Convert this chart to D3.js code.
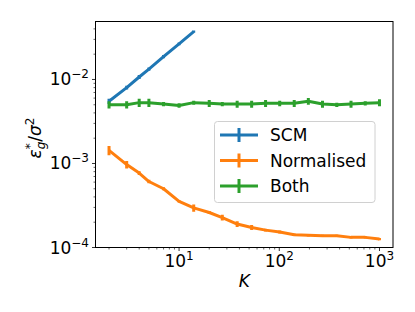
<!DOCTYPE html>
<html><head><meta charset="utf-8">
<script src="https://cdn.jsdelivr.net/npm/d3@7"></script>
<style>
html,body{margin:0;padding:0;background:#fff;}
text{font-family:"DejaVu Sans",sans-serif;fill:#000;}
</style></head>
<body><svg id="c" width="415" height="312"></svg>
<script>
const K = [2,3,4,5,7,10,14,20,27,38,53,73,101,141,195,270,375,520,721,1000];
const scmK = [2,3,4,5,7,10,14];
const scm = [0.0055,0.0080,0.0107,0.0133,0.0187,0.0265,0.0371];
const scmErr = [0.0004,0.0004,0.0006,0.0006,0.0008,0.0010,0.0012];
const norm = [0.00143,0.00097,0.00077,0.00061,0.00050,0.000354,0.000296,0.000261,0.000227,0.000190,0.000173,0.000161,0.000153,0.000142,0.000140,0.000138,0.000138,0.000132,0.000132,0.000126];
const normErr = [0.00018,0.0001,0.00004,0.00003,0.00002,0.00001,0.00003,0.00001,0.000018,0.000015,0.000012,0.000006,0.000006,0.000005,0.000005,0.000004,0.000004,0.000004,0.000004,0.000004];
const both = [0.0050,0.0050,0.0053,0.0053,0.0051,0.0049,0.0053,0.0052,0.0051,0.0051,0.0051,0.0052,0.0052,0.0052,0.0055,0.0051,0.0050,0.0051,0.0052,0.0053];
const bothErr = [0.0005,0.0005,0.0006,0.0006,0.0003,0.0003,0.0003,0.0005,0.0003,0.0005,0.0005,0.0005,0.0004,0.0005,0.0005,0.0005,0.0003,0.0005,0.0003,0.0005];
const xTicks = [10,100,1000];
const xTickExp = ["1","2","3"];
const yTicks = [1e-4,1e-3,1e-2];
const yTickExp = ["\u22124","\u22123","\u22122"];
const seriesNames = ["SCM","Normalised","Both"];
const colors = ["#1f77b4","#ff7f0e","#2ca02c"];

const L=95.5,R=393,T=21.5,B=247.5;
const x = d3.scaleLog().domain([Math.pow(10,0.166),Math.pow(10,3.135)]).range([L,R]);
const y = d3.scaleLog().domain([1e-4,Math.pow(10,-1.31)]).range([B,T]);
const svg = d3.select("#c");

// minor ticks
const xMinor=[], yMinor=[];
for(let e=0;e<4;e++) for(let m=2;m<10;m++){const v=m*Math.pow(10,e); if(v>=x.domain()[0]&&v<=x.domain()[1]) xMinor.push(v);}
for(let e=-4;e<-1;e++) for(let m=2;m<10;m++){const v=m*Math.pow(10,e); if(v>=y.domain()[0]&&v<=y.domain()[1]) yMinor.push(v);}

const g = svg.append("g");
g.selectAll(".xmin").data(xMinor).enter().append("line")
 .attr("x1",d=>x(d)).attr("x2",d=>x(d)).attr("y1",B).attr("y2",B+2).attr("stroke","#000").attr("stroke-width",0.6);
g.selectAll(".ymin").data(yMinor).enter().append("line")
 .attr("y1",d=>y(d)).attr("y2",d=>y(d)).attr("x1",L).attr("x2",L-2).attr("stroke","#000").attr("stroke-width",0.6);
g.selectAll(".xmaj").data(xTicks).enter().append("line")
 .attr("x1",d=>x(d)).attr("x2",d=>x(d)).attr("y1",B).attr("y2",B+3.5).attr("stroke","#000").attr("stroke-width",0.8);
g.selectAll(".ymaj").data(yTicks).enter().append("line")
 .attr("y1",d=>y(d)).attr("y2",d=>y(d)).attr("x1",L).attr("x2",L-3.5).attr("stroke","#000").attr("stroke-width",0.8);

// tick labels
xTicks.forEach((v,i)=>{
  const t=svg.append("text").attr("x",x(v)).attr("y",267).attr("text-anchor","middle").attr("font-size",17);
  t.append("tspan").text("10");
  t.append("tspan").attr("dy",-7).attr("font-size",12).text(xTickExp[i]);
});
yTicks.forEach((v,i)=>{
  const t=svg.append("text").attr("x",89).attr("y",y(v)+6).attr("text-anchor","end").attr("font-size",17);
  t.append("tspan").text("10");
  t.append("tspan").attr("dy",-7).attr("font-size",12).text(yTickExp[i]);
});

// data
const clip = svg.append("clipPath").attr("id","cp").append("rect").attr("x",L).attr("y",T).attr("width",R-L).attr("height",B-T);
const plot = svg.append("g").attr("clip-path","url(#cp)");
function drawSeries(xs, vals, errs, col){
  const pts = xs.map((k,i)=>({k,v:vals[i],e:errs[i]}));
  plot.append("path").datum(pts).attr("fill","none").attr("stroke",col).attr("stroke-width",3)
    .attr("stroke-linejoin","round")
    .attr("d",d3.line().x(d=>x(d.k)).y(d=>y(d.v)));
  plot.selectAll(null).data(pts).enter().append("line")
    .attr("x1",d=>x(d.k)).attr("x2",d=>x(d.k))
    .attr("y1",d=>y(d.v-d.e)).attr("y2",d=>y(d.v+d.e))
    .attr("stroke",col).attr("stroke-width",3);
}
drawSeries(scmK, scm, scmErr, colors[0]);
drawSeries(K, norm, normErr, colors[1]);
drawSeries(K, both, bothErr, colors[2]);

// frame
svg.append("rect").attr("x",L).attr("y",T).attr("width",R-L).attr("height",B-T)
  .attr("fill","none").attr("stroke","#000").attr("stroke-width",1);

// axis labels
const xl = svg.append("text").attr("x",(L+R)/2).attr("y",287).attr("text-anchor","middle")
  .attr("font-size",17).attr("font-style","italic").text("K");
const yl = svg.append("text").attr("transform","translate(41,138) rotate(-90)").attr("text-anchor","middle")
  .attr("font-size",17).attr("font-style","italic");
yl.append("tspan").text("\u03b5");
yl.append("tspan").attr("font-size",12).attr("dy",-7).text("*");
yl.append("tspan").attr("font-size",12).attr("dx",-6).attr("dy",11).text("g");
yl.append("tspan").attr("dy",-4).attr("font-style","normal").text("/");
yl.append("tspan").text("\u03c3");
yl.append("tspan").attr("font-size",12).attr("font-style","normal").attr("dy",-7).text("2");

// legend
const lg = svg.append("g");
lg.append("rect").attr("x",214.5).attr("y",121.5).attr("width",160.5).attr("height",81).attr("rx",3)
  .attr("fill","#fff").attr("fill-opacity",0.8).attr("stroke","#d0d0d0").attr("stroke-width",1);
seriesNames.forEach((n,i)=>{
  const cy = 135 + i*25.5;
  lg.append("line").attr("x1",220).attr("x2",258).attr("y1",cy).attr("y2",cy).attr("stroke",colors[i]).attr("stroke-width",3);
  lg.append("line").attr("x1",239).attr("x2",239).attr("y1",cy-7).attr("y2",cy+7).attr("stroke",colors[i]).attr("stroke-width",3);
  lg.append("text").attr("x",270).attr("y",cy+6).attr("font-size",17).text(n);
});
</script></body></html>
